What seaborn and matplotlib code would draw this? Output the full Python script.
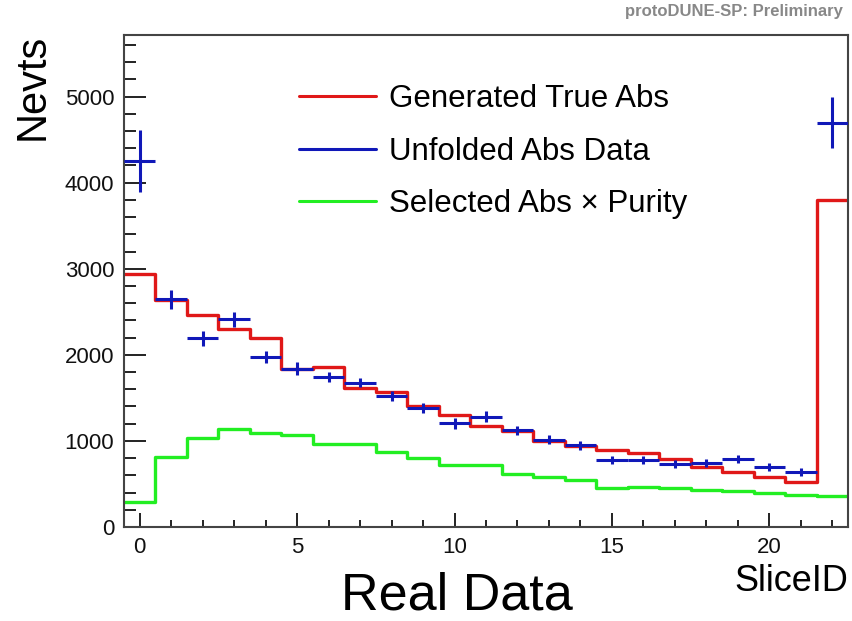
import numpy as np
import pandas as pd
import matplotlib
matplotlib.use("Agg")
import matplotlib.pyplot as plt
from matplotlib.lines import Line2D
from matplotlib.ticker import MultipleLocator
import seaborn as sns

# Absorption slices
slice_id = list(range(23))

gen_true_abs = [2938, 2640, 2457, 2302, 2194, 1837, 1864, 1613, 1566, 1407,
                1302, 1174, 1116, 996, 946, 897, 864, 787, 702, 643,
                578, 527, 3802]

unfolded_abs = [4248, 2647, 2190, 2411, 1973, 1837, 1740, 1675, 1519, 1384,
                1205, 1283, 1124, 1012, 950, 781, 779, 733, 748, 787,
                702, 640, 4694]
unfolded_err = [360, 110, 91, 87, 68, 74, 58, 54, 58, 54,
                62, 60, 54, 52, 50, 46, 46, 46, 46, 46,
                46, 46, 297]

selected_abs_purity = [287, 810, 1031, 1140, 1089, 1070, 961, 963, 876, 798,
                       725, 725, 616, 578, 543, 456, 461, 450, 430, 415,
                       391, 376, 360]

legend_labels = ["Generated True Abs", "Unfolded Abs Data", "Selected Abs \u00d7 Purity"]

RED = "#e01818"
BLUE = "#1018b8"
GREEN = "#22ee22"

sns.set_style("white")
plt.rcParams["font.family"] = ["Liberation Sans", "DejaVu Sans"]
plt.rcParams["text.color"] = "black"

df = pd.DataFrame({
    "slice": slice_id,
    "gen": gen_true_abs,
    "unf": unfolded_abs,
    "err": unfolded_err,
    "sel": selected_abs_purity,
})

fig = plt.figure(figsize=(8.52, 6.21), dpi=100)
ax = fig.add_axes([124 / 852, 1 - 527 / 621, (848 - 124) / 852, (527 - 35) / 621])

sns.histplot(data=df, x="slice", weights="sel", discrete=True, element="step",
             fill=False, color=GREEN, linewidth=2.4, ax=ax)
sns.histplot(data=df, x="slice", weights="gen", discrete=True, element="step",
             fill=False, color=RED, linewidth=2.4, ax=ax)
ax.errorbar(df["slice"], df["unf"], xerr=0.5, yerr=df["err"], fmt="none",
            ecolor=BLUE, elinewidth=2.2, capsize=0, zorder=5)

ax.set_xlim(-0.5, 22.5)
ax.set_ylim(0, 5715)
ax.set_xlabel("")
ax.set_ylabel("")

ax.xaxis.set_major_locator(MultipleLocator(5))
ax.xaxis.set_minor_locator(MultipleLocator(1))
ax.yaxis.set_major_locator(MultipleLocator(1000))
ax.yaxis.set_minor_locator(MultipleLocator(200))
ax.tick_params(axis="x", which="major", direction="in", length=10, width=1.3,
               color="#111111", labelsize=16, pad=7, bottom=True, top=False,
               labelcolor="#111111")
ax.tick_params(axis="x", which="minor", direction="in", length=5, width=1.3,
               color="#111111", bottom=True, top=False)
ax.tick_params(axis="y", which="major", direction="in", length=16, width=1.3,
               color="#111111", labelsize=16, pad=7, left=True, right=False,
               labelcolor="#111111")
ax.tick_params(axis="y", which="minor", direction="in", length=8.5, width=1.3,
               color="#111111", left=True, right=False)
for s in ax.spines.values():
    s.set_visible(True)
    s.set_color("#444444")
    s.set_linewidth(1.5)

handles = [Line2D([], [], color=RED, lw=2.2),
           Line2D([], [], color=BLUE, lw=2.2),
           Line2D([], [], color=GREEN, lw=2.2)]
leg = ax.legend(handles, legend_labels, loc="upper left",
                bbox_to_anchor=((299 - 124) / 724, (527 - 84) / 492),
                frameon=False, fontsize=22.5, handlelength=2.45, handletextpad=0.42,
                labelspacing=0.72, borderaxespad=0, borderpad=0)
for t in leg.get_texts():
    t.set_color("black")

fig.text(33 / 852, 1 - 87 / 621, "Nevts", rotation=90, ha="center", va="center",
         fontsize=30, color="black")
fig.text(848 / 852, 1 - 591 / 621, "SliceID", ha="right", va="baseline",
         fontsize=26, color="black")
fig.text(457 / 852, 1 - 610 / 621, "Real Data", ha="center", va="baseline",
         fontsize=37.5, color="black")
fig.text(843 / 852, 1 - 16 / 621, "protoDUNE-SP: Preliminary", ha="right",
         va="baseline", fontsize=12, fontweight="bold", color="#888888")

fig.savefig("out.png", dpi=100)
